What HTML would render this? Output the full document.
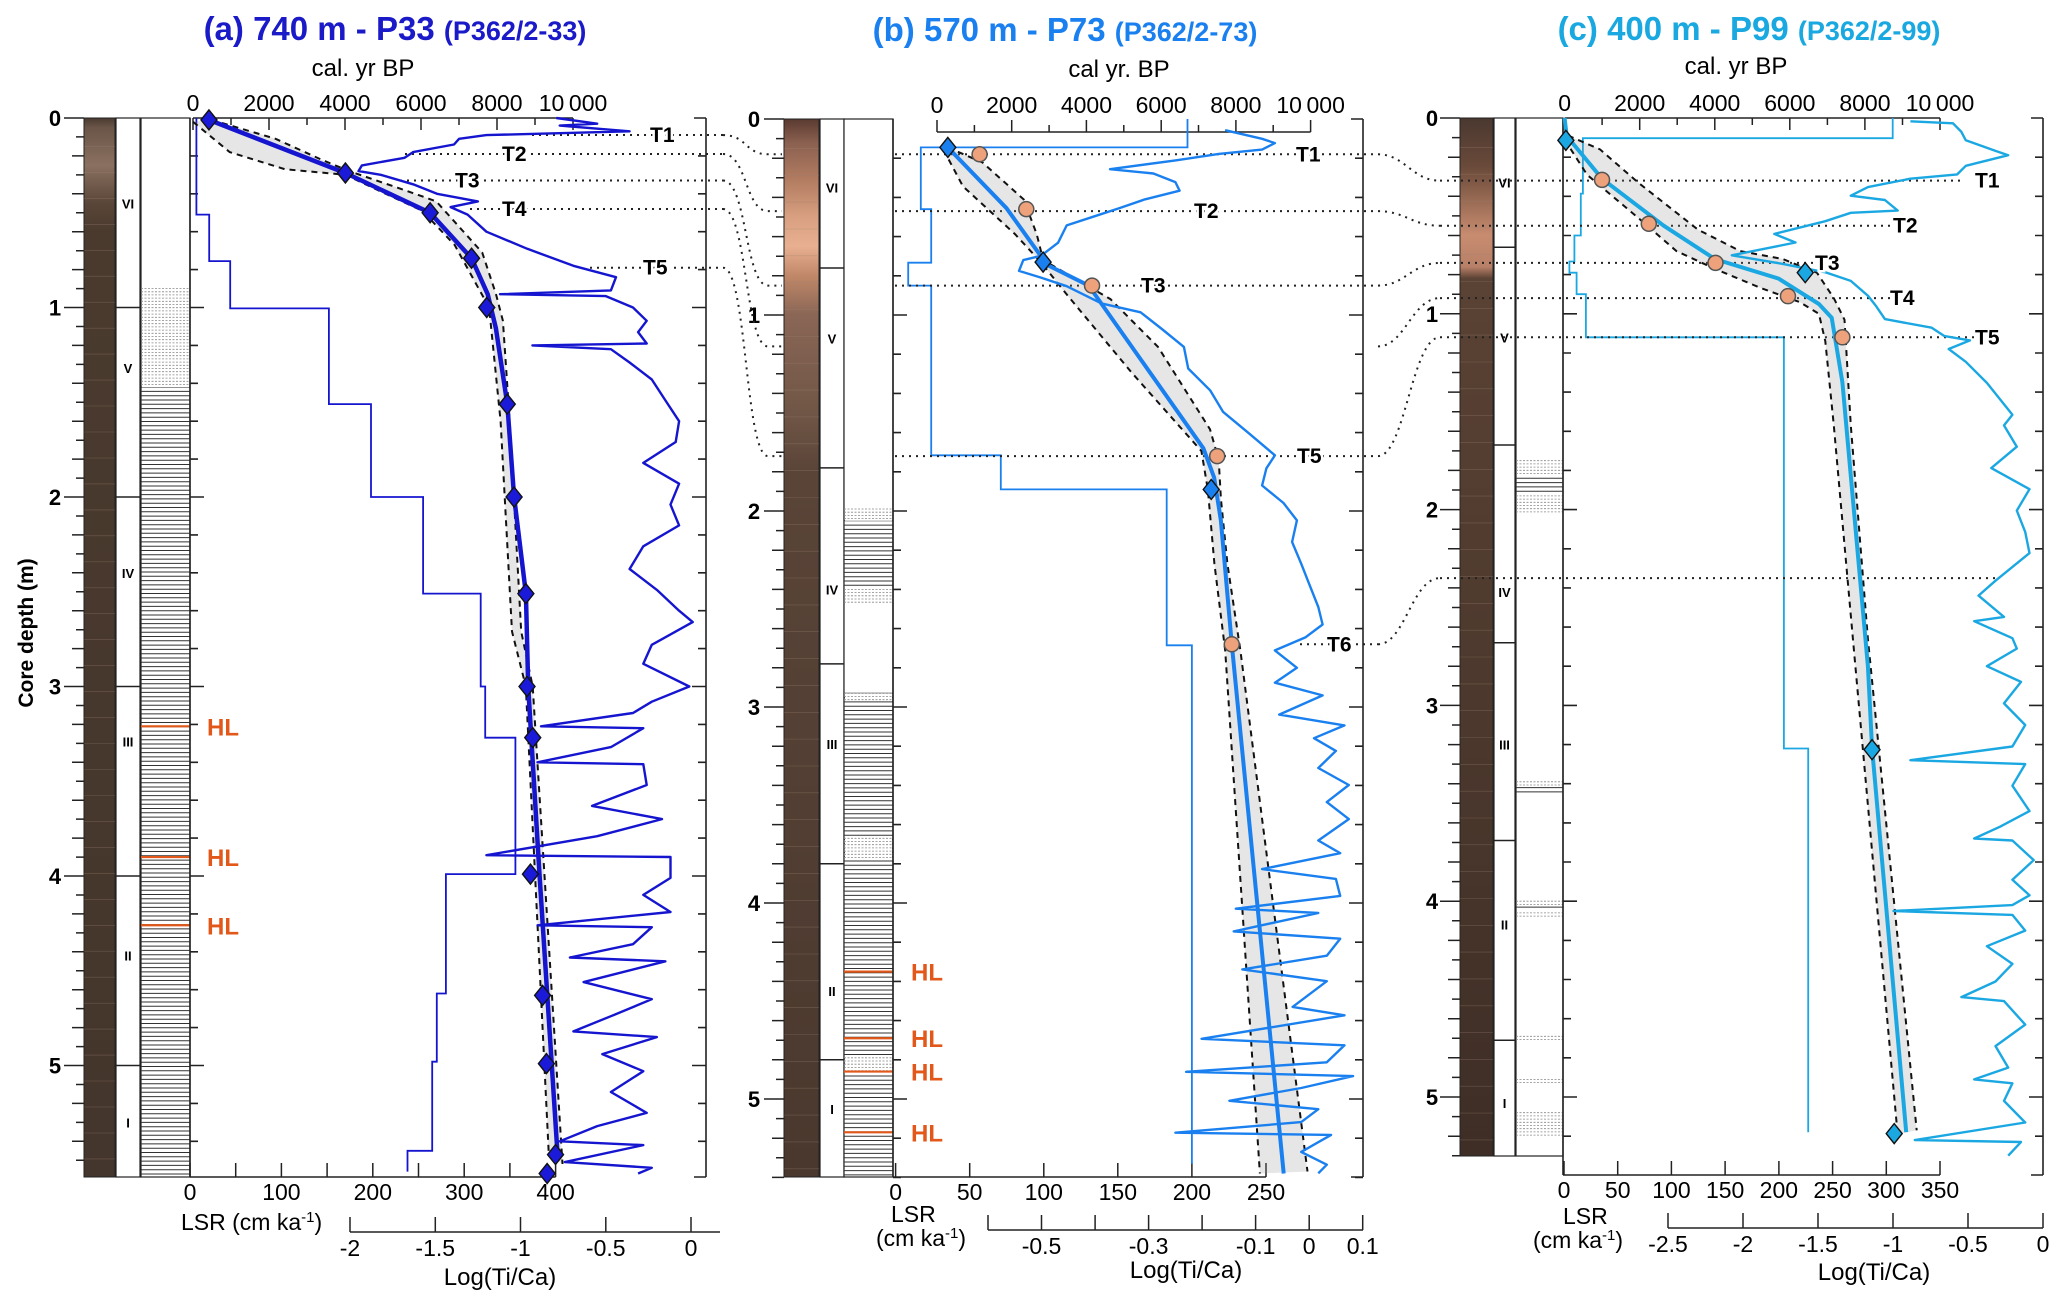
<!DOCTYPE html>
<html><head><meta charset="utf-8"><style>
html,body{margin:0;padding:0;background:#fff}
svg{display:block;font-family:"Liberation Sans",Arial,sans-serif}
</style></head><body>
<svg id="fig" width="2067" height="1309" viewBox="0 0 2067 1309" xmlns="http://www.w3.org/2000/svg">
<defs>
<linearGradient id="gA" x1="0" y1="0" x2="0" y2="1"></linearGradient>
<linearGradient id="gB" x1="0" y1="0" x2="0" y2="1"></linearGradient>
<linearGradient id="gC" x1="0" y1="0" x2="0" y2="1"></linearGradient>
</defs>
<text x="395" y="40" text-anchor="middle" font-weight="bold" fill="#1a1ac8" font-size="33">(a) 740 m - P33 <tspan font-size="27">(P362/2-33)</tspan></text>
<text x="1065" y="41" text-anchor="middle" font-weight="bold" fill="#1a80f0" font-size="33">(b) 570 m - P73 <tspan font-size="27">(P362/2-73)</tspan></text>
<text x="1749" y="40" text-anchor="middle" font-weight="bold" fill="#1aa8e0" font-size="33">(c) 400 m - P99 <tspan font-size="27">(P362/2-99)</tspan></text>
<text x="363" y="76" text-anchor="middle" font-size="24">cal. yr BP</text>
<text x="1119" y="77" text-anchor="middle" font-size="24">cal yr. BP</text>
<text x="1736" y="74" text-anchor="middle" font-size="24">cal. yr BP</text>
<text x="0" y="0" transform="translate(33,633) rotate(-90)" text-anchor="middle" font-weight="bold" font-size="21">Core depth (m)</text>
<text x="181" y="1230" font-size="23">LSR (cm ka<tspan baseline-shift="super" font-size="15">-1</tspan>)</text>
<text x="891" y="1222" font-size="23">LSR</text>
<text x="876" y="1246" font-size="23">(cm ka<tspan baseline-shift="super" font-size="15">-1</tspan>)</text>
<text x="1563" y="1224" font-size="23">LSR</text>
<text x="1533" y="1248" font-size="23">(cm ka<tspan baseline-shift="super" font-size="15">-1</tspan>)</text>
<text x="500" y="1285" text-anchor="middle" font-size="24">Log(Ti/Ca)</text>
<text x="1186" y="1278" text-anchor="middle" font-size="24">Log(Ti/Ca)</text>
<text x="1874" y="1280" text-anchor="middle" font-size="24">Log(Ti/Ca)</text>
</svg>
<script>
// ===== Panel A data =====
const aAgeDepth=[0.01,0.29,0.50,0.74,0.93,1.11,1.51,2.0,2.51,3.0,4.0,5.49];
const aAge=[420,4010,6240,7330,7755,7970,8270,8450,8760,8820,9120,9600];
const aLoDepth=[0.02,0.18,0.27,0.30,0.40,0.49,0.67,0.89,1.0,1.6,2.71,3.0,5.47];
const aLoAge=[0,966,2416,4010,5074,6040,6886,7490,7792,8094,8396,8758,9362];
const aHiDepth=[0.01,0.11,0.22,0.28,0.38,0.44,0.71,0.93,1.07,1.6,2.71,3.0,5.52];
const aHiAge=[483,2174,3382,4107,5557,6402,7610,7973,8154,8335,8637,8940,9725];
const aPtDepth=[0.01,0.29,0.50,0.74,1.0,1.51,2.0,2.51,3.0,3.27,3.99,4.63,4.99,5.47,5.57];
const aPtAge=[420,4010,6240,7330,7730,8270,8450,8760,8790,8940,8880,9200,9300,9540,9320];
const aLsrEdges=[0,0.51,0.755,1.005,1.51,2.0,2.51,3.0,3.27,3.99,4.62,4.98,5.45,5.56];
const aLsr=[7,21,44,152,198,255,318,323,356,280,270,265,238];
const aTiDepth=[0,0.03,0.04,0.07,0.09,0.11,0.14,0.18,0.21,0.25,0.28,0.30,0.35,0.40,0.44,0.47,0.51,0.60,0.69,0.78,0.84,0.91,0.93,0.94,1.00,1.07,1.13,1.19,1.20,1.22,1.29,1.38,1.49,1.60,1.71,1.82,1.93,2.04,2.15,2.26,2.38,2.49,2.60,2.66,2.78,2.88,3.00,3.08,3.14,3.21,3.22,3.32,3.40,3.41,3.52,3.63,3.70,3.79,3.89,3.90,4.01,4.10,4.19,4.26,4.27,4.36,4.43,4.45,4.56,4.65,4.74,4.82,4.85,4.94,5.03,5.14,5.25,5.32,5.40,5.42,5.51,5.54,5.57];
const aTi=[-0.79,-0.55,-0.77,-0.36,-1.20,-1.36,-1.39,-1.63,-1.68,-1.93,-1.95,-1.82,-1.63,-1.49,-1.25,-1.41,-1.31,-1.20,-0.96,-0.69,-0.44,-0.47,-1.12,-0.50,-0.34,-0.26,-0.31,-0.26,-0.93,-0.47,-0.36,-0.23,-0.15,-0.07,-0.09,-0.28,-0.07,-0.12,-0.07,-0.28,-0.36,-0.20,-0.07,0.01,-0.23,-0.28,-0.01,-0.23,-0.34,-0.88,-0.28,-0.47,-0.90,-0.28,-0.26,-0.58,-0.17,-0.55,-1.20,-0.12,-0.12,-0.28,-0.12,-0.90,-0.23,-0.34,-0.71,-0.15,-0.63,-0.23,-0.47,-0.69,-0.20,-0.52,-0.28,-0.47,-0.26,-0.55,-0.77,-0.28,-0.74,-0.23,-0.31];
const aHL=[3.21,3.90,4.26];
const aUnitBounds=[1,2,3,4,5];
const aUnitNames=['VI','V','IV','III','II','I'];
const aUnitDepth=[0.45,1.32,2.4,3.29,4.42,5.3];
const aTDepth=[0.09,0.19,0.33,0.48,0.79];
const aTNames=['T1','T2','T3','T4','T5'];
// ===== Panel B data =====
const bAgeDepth=[0.145,0.455,0.70,0.74,0.85,1.68,1.83,2.05,2.68,5.38];
const bAge=[290,1860,2780,2900,4060,7130,7420,7600,7890,9280];
const bLoDepth=[0.157,0.344,0.587,0.731,0.897,1.296,1.694,1.893,2.269,2.712,5.38];
const bLoAge=[174,696,2088,2784,3480,5220,7076,7250,7424,7714,8642];
const bHiDepth=[0.145,0.222,0.410,0.587,0.720,0.919,1.163,1.583,1.738,1.937,2.269,2.712,5.37];
const bHiAge=[290,1218,2320,2668,2842,4640,5916,7308,7540,7598,7772,8120,9918];
const bCircDepth=[0.18,0.46,0.85,1.72,2.68];
const bCircAge=[1140,2390,4150,7500,7890];
const bDiaDepth=[0.145,0.73,1.89];
const bDiaAge=[290,2840,7340];
const bLsrEdges=[0,0.145,0.46,0.733,0.85,1.716,1.89,2.685,5.33];
const bLsr=[197,17,24,8.5,24,71,183,200];
const bTiDepth=[0.057,0.101,0.123,0.156,0.178,0.211,0.256,0.278,0.322,0.366,0.410,0.455,0.499,0.543,0.631,0.698,0.720,0.775,0.809,0.853,0.941,0.986,1.074,1.163,1.273,1.384,1.494,1.605,1.716,1.782,1.870,1.959,2.048,2.158,2.269,2.379,2.490,2.579,2.645,2.711,2.800,2.876,2.941,3.039,3.094,3.159,3.224,3.311,3.398,3.485,3.572,3.681,3.746,3.827,3.877,3.964,4.029,4.051,4.145,4.182,4.269,4.339,4.399,4.530,4.573,4.693,4.726,4.813,4.861,4.883,4.944,5.009,5.052,5.118,5.172,5.183,5.270,5.335,5.379];
const bTi=[-0.157,-0.088,-0.064,-0.088,-0.169,-0.250,-0.372,-0.291,-0.250,-0.242,-0.307,-0.355,-0.404,-0.453,-0.469,-0.501,-0.534,-0.542,-0.501,-0.453,-0.388,-0.315,-0.274,-0.234,-0.226,-0.185,-0.161,-0.112,-0.064,-0.080,-0.088,-0.048,-0.023,-0.032,-0.015,0.001,0.017,0.025,-0.007,-0.064,-0.023,-0.064,0.025,-0.056,0.066,0.009,0.050,0.017,0.074,0.033,0.074,0.017,0.058,-0.088,0.050,0.058,-0.137,0.017,-0.141,0.058,0.033,-0.125,0.033,-0.031,0.066,-0.201,0.066,0.033,-0.230,0.082,-0.015,-0.149,0.017,-0.015,-0.250,0.041,-0.015,0.033,0.017];
const bHL=[4.35,4.69,4.86,5.17];
const bUnitBounds=[0.76,1.78,2.78,3.80,4.80];
const bUnitNames=['VI','V','IV','III','II','I'];
const bUnitDepth=[0.35,1.12,2.4,3.19,4.45,5.05];
const bTDepth=[0.18,0.47,0.85,1.72,2.68];
const bTNames=['T1','T2','T3','T5','T6'];
// ===== Panel C data =====
const cAgeDepth=[0.0,0.092,0.31,0.55,0.72,0.82,0.95,1.02,1.35,2.8,3.22,5.18];
const cAge=[0,57,997,2640,4000,5700,6775,7115,7400,8080,8190,9100];
const cLoDepth=[0.11,0.29,0.51,0.68,0.77,0.87,0.94,1.0,1.14,1.57,2.66,5.19];
const cLoAge=[0,600,1960,2980,4000,5245,6265,6775,6945,7170,7680,8870];
const cHiDepth=[0.09,0.16,0.33,0.57,0.68,0.72,0.79,0.92,1.03,1.57,2.66,5.17];
const cHiAge=[90,940,1960,3550,4680,5810,6720,7170,7455,7625,8080,9380];
const cCircDepth=[0.316,0.54,0.74,0.91,1.12];
const cCircAge=[997,2243,4020,5950,7400];
const cDiaDepth=[0.114,0.79,3.226,5.187];
const cDiaAge=[34,6410,8190,8780];
const cLsrEdges=[0,0.103,0.386,0.60,0.733,0.79,0.90,1.12,3.22,5.18];
const cLsr=[306,17.6,15.6,9.7,5,11.7,20.4,204.7,227.3];
const cTiDepth=[0.017,0.027,0.071,0.114,0.168,0.190,0.244,0.288,0.310,0.353,0.397,0.419,0.473,0.484,0.527,0.592,0.636,0.658,0.701,0.745,0.788,0.832,0.908,0.962,1.027,1.071,1.114,1.136,1.180,1.245,1.353,1.462,1.516,1.570,1.679,1.788,1.896,2.005,2.114,2.222,2.363,2.439,2.548,2.570,2.657,2.71,2.80,2.88,2.99,3.10,3.21,3.28,3.30,3.41,3.54,3.62,3.68,3.69,3.79,3.89,3.97,4.02,4.05,4.07,4.15,4.23,4.32,4.41,4.49,4.51,4.63,4.74,4.85,4.91,4.93,5.02,5.13,5.22,5.23,5.30];
const cTi=[-0.884,-0.600,-0.544,-0.515,-0.317,-0.232,-0.515,-0.572,-0.884,-1.167,-1.281,-1.054,-0.969,-1.281,-1.451,-1.791,-1.650,-1.791,-2.075,-1.735,-1.451,-1.281,-1.167,-1.111,-1.054,-0.742,-0.657,-0.487,-0.629,-0.515,-0.374,-0.260,-0.204,-0.260,-0.175,-0.345,-0.090,-0.175,-0.119,-0.090,-0.317,-0.430,-0.260,-0.459,-0.204,-0.175,-0.374,-0.147,-0.260,-0.119,-0.204,-0.884,-0.119,-0.204,-0.090,-0.288,-0.459,-0.204,-0.062,-0.204,-0.090,-0.204,-0.997,-0.204,-0.119,-0.374,-0.204,-0.317,-0.544,-0.260,-0.119,-0.317,-0.232,-0.459,-0.204,-0.260,-0.119,-0.855,-0.147,-0.232];
const cUnitBounds=[0.66,1.67,2.68,3.69,4.71];
const cUnitNames=['VI','V','IV','III','II','I'];
const cUnitDepth=[0.33,1.12,2.42,3.2,4.12,5.03];
const cTDepth=[0.32,0.55,0.74,0.92,1.12,2.35];
const cTNames=['T1','T2','T3','T4','T5',''];
// ===== tick labels =====
const ageTickLabels=['0','2000','4000','6000','8000','10\u2009000'];
const ageTickValues=[0,2000,4000,6000,8000,10000];
const depthTickLabels=['0','1','2','3','4','5'];
const aLsrLabels=[0,100,200,300,400];
const bLsrLabels=[0,50,100,150,200,250];
const cLsrLabels=[0,50,100,150,200,250,300,350];
const aLogLabels=[-2,-1.5,-1,-0.5,0];
const bLogLabels=[-0.5,-0.3,-0.1,0,0.1];
const cLogLabels=[-2.5,-2,-1.5,-1,-0.5,0];
// connectors
const abFrom=[0.09,0.19,0.33,0.48,0.79];
const abTo=[0.18,0.47,0.85,1.16,1.72];
const bcFrom=[0.18,0.47,0.85,1.16,1.72,2.68];
const bcTo=[0.32,0.55,0.74,0.92,1.12,2.35];

const NS='http://www.w3.org/2000/svg';
const svg=document.getElementById('fig');
function mk(tag,attrs,parent){const e=document.createElementNS(NS,tag);for(const k in attrs)e.setAttribute(k,attrs[k]);(parent||svg).appendChild(e);return e;}
function tx(x,y,s,size,attrs,parent){const e=mk('text',Object.assign({x:x,y:y,'font-size':size},attrs||{}),parent);e.textContent=s;return e;}

const G={
 a:{y0:118,ppm:189.5,bot:1177,maxD:5.59,photo:[84,115],unit:[116,140],lith:[141,190],colBot:1177,plotL:190,plotR:706,
    age0:193,age1:573,ageY:118,ageDir:1,ageLblY:111,lsr0:190,lsrPx:0.914,lsrMax:400,lsrStep:50,lsrY:1177,
    logY:1232,log0x:350,logPx:170.5,logMin:-2,logEnd:720,logStep:0.5,logRef:-2,lblX:55,tickX:84,hlX:207,
    color:'#1515d0',grad:'gA',photoStops:[[0,'#4a3a30'],[0.05,'#6a5548'],[0.25,'#8a7060'],[0.45,'#5a4638'],[0.6,'#4a3a2e'],[5.59,'#44362c']]},
 b:{y0:119,ppm:196,bot:1177,maxD:5.40,photo:[784,819],unit:[820,844],lith:[844,893],colBot:1177,plotL:893,plotR:1363,
    age0:937,age1:1310.6,ageY:132,ageDir:-1,ageLblY:113,lsr0:895.6,lsrPx:1.4816,lsrMax:250,lsrStep:50,lsrY:1177,
    logY:1230,log0x:988,logPx:535.3,logMin:-0.6,logEnd:1363,logStep:0.1,logRef:-0.6,lblX:754,tickX:784,hlX:911,
    color:'#1a80ef',grad:'gB',photoStops:[[0,'#5a3a30'],[0.12,'#8a6050'],[0.3,'#b07a60'],[0.5,'#d8a080'],[0.65,'#e8b090'],[0.8,'#c08868'],[1.0,'#8a6656'],[1.5,'#705646'],[1.8,'#5a4438'],[5.4,'#4a382e']]},
 c:{y0:118,ppm:195.8,bot:1175,maxD:5.30,photo:[1460,1493],unit:[1494,1515],lith:[1516,1563],colBot:1156,plotL:1563,plotR:2043,
    age0:1564.6,age1:1940,ageY:118,ageDir:1,ageLblY:111,lsr0:1564,lsrPx:1.0743,lsrMax:350,lsrStep:50,lsrY:1175,
    logY:1228,log0x:1668,logPx:150,logMin:-2.5,logEnd:2043,logStep:0.5,logRef:-2.5,lblX:1432,tickX:1460,hlX:0,
    color:'#1ba8e2',grad:'gC',photoStops:[[0,'#4a3830'],[0.25,'#6a4a3a'],[0.45,'#a07058'],[0.6,'#c88c70'],[0.76,'#b88068'],[0.82,'#5a4234'],[5.3,'#3e2e26']]}
};
function Y(g,d){return g.y0+d*g.ppm;}
function XA(g,a){return g.age0+a*(g.age1-g.age0)/10000;}
function XL(g,v){return g.lsr0+v*g.lsrPx;}
function XT(g,l){return g.log0x+(l-g.logRef)*g.logPx;}
function line(g,ds,vs,fx){return ds.map((d,i)=>(i?'L':'M')+fx(g,vs[i]).toFixed(1)+' '+Y(g,d).toFixed(1)).join(' ');}

function drawPanel(k,D){
 const g=G[k];
 const grp=mk('g',{});
 
 
 // photo gradient
 const gr=document.getElementById(g.grad);
 g.photoStops.forEach(s=>{const st=mk('stop',{offset:(s[0]/g.maxD).toFixed(4),'stop-color':s[1]},gr);});
 const ph=mk('rect',{x:g.photo[0],y:g.y0,width:g.photo[1]-g.photo[0],height:g.colBot-g.y0,fill:'url(#'+g.grad+')',stroke:'#222','stroke-width':1},grp);
 
 
 // faint layers on photo
 let lay='';for(let d=0.15;d<g.maxD;d+=0.137){lay+='M'+g.photo[0]+' '+Y(g,d).toFixed(1)+'H'+g.photo[1];}
 const lp=mk('path',{d:lay,stroke:'#9a8070','stroke-width':0.6,opacity:0.45},grp);
 
 
 // depth ticks
 let t='';for(let i=0;i*0.1<=g.maxD+0.001;i++){const L=(i%10===0)?20:(i%2===0?12:8);const y=Y(g,i*0.1);t+='M'+(g.tickX-L)+' '+y.toFixed(1)+'H'+g.tickX;}
 const tp=mk('path',{d:t,stroke:'#222','stroke-width':1.5},grp);
 
 
 depthTickLabels.forEach((s,i)=>{const e=tx(g.lblX,Y(g,i)+8,s,22,{'text-anchor':'middle','font-weight':'bold'},grp);
  
  });
 // unit column
 const uc=mk('rect',{x:g.unit[0],y:g.y0,width:g.unit[1]-g.unit[0],height:g.colBot-g.y0,fill:'#fff',stroke:'#222','stroke-width':1.2},grp);
 
 
 let ub='';D.unitB.forEach(d=>{ub+='M'+g.unit[0]+' '+Y(g,d).toFixed(1)+'H'+g.unit[1];});
 const ubp=mk('path',{d:ub,stroke:'#222','stroke-width':1.5},grp);
 
 
 D.unitN.forEach((s,i)=>{const e=tx((g.unit[0]+g.unit[1])/2,Y(g,D.unitD[i])+5,s,13,{'text-anchor':'middle','font-weight':'bold'},grp);
  
  });
 // lithology column
 const lc=mk('rect',{x:g.lith[0],y:g.y0,width:g.lith[1]-g.lith[0],height:g.colBot-g.y0,fill:'#fff',stroke:'#222','stroke-width':1.2},grp);
 
 
 let lam='';D.lam.forEach(iv=>{for(let y=Y(g,iv[0]);y<=Y(g,iv[1]);y+=4.3){lam+='M'+g.lith[0]+' '+y.toFixed(1)+'H'+g.lith[1];}});
 const lmp=mk('path',{d:lam,stroke:'#333','stroke-width':1},grp);
 
 
 let dot='';D.dot.forEach(iv=>{const y1=Y(g,iv[0]),y2=Y(g,iv[1]);mk('rect',{x:g.lith[0]+1,y:y1,width:g.lith[1]-g.lith[0]-2,height:y2-y1,fill:'#fff'},grp);for(let y=y1;y<=y2;y+=3.2){dot+='M'+g.lith[0]+' '+y.toFixed(1)+'H'+g.lith[1];}});
 const dp=mk('path',{d:dot,stroke:'#888','stroke-width':0.8,'stroke-dasharray':'2 1.5'},grp);
 
 
 D.hl.forEach((d,i)=>{const e=mk('line',{x1:g.lith[0],x2:g.lith[1],y1:Y(g,d),y2:Y(g,d),stroke:'#e2581a','stroke-width':2.2},grp);
  
  
  const t2=tx(g.hlX,Y(g,d)+9,'HL',24,{'font-weight':'bold',fill:'#e2581a'},grp);
  
  });
 // plot axes
 let ax='M'+g.plotL+' '+g.y0+'V'+g.bot+' M'+g.plotR+' '+g.y0+'V'+g.bot+' M'+(g.plotR-12)+' '+g.y0+'H'+g.plotR+' M'+(g.plotR-12)+' '+g.bot+'H'+g.plotR;
 for(let i=1;i*0.2<=g.maxD+0.01;i++){const y=Y(g,i*0.2).toFixed(1);const L=(i%5===0)?14:8;ax+=' M'+g.plotL+' '+y+'h'+L+' M'+g.plotR+' '+y+'h-'+L;}
 const axp=mk('path',{d:ax,stroke:'#222','stroke-width':1.6,fill:'none'},grp);
 
 
 // age axis
 let ag='M'+g.age0+' '+g.ageY+'H'+g.age1;
 for(let a=0;a<=10000;a+=1000){const x=XA(g,a).toFixed(1);const L=(a%2000===0)?12:7;ag+=' M'+x+' '+g.ageY+'v'+(g.ageDir*L);}
 const agp=mk('path',{d:ag,stroke:'#222','stroke-width':1.5,fill:'none'},grp);
 
 
 ageTickValues.forEach((a,i)=>{const e=tx(XA(g,a),g.ageLblY,ageTickLabels[i],23,{'text-anchor':'middle'},grp);
  
  });
 // LSR axis
 let ls='M'+g.plotL+' '+g.lsrY+'H'+XL(g,g.lsrMax);
 for(let v=0;v<=g.lsrMax;v+=g.lsrStep){ls+=' M'+XL(g,v).toFixed(1)+' '+g.lsrY+'v-14';}
 const lsp=mk('path',{d:ls,stroke:'#222','stroke-width':1.5,fill:'none'},grp);
 
 
 D.lsrLbl.forEach(v=>{const e=tx(XL(g,v),g.lsrY+23,String(v),23,{'text-anchor':'middle'},grp);
  
  });
 // log axis
 let lg='M'+g.log0x+' '+g.logY+'H'+g.logEnd;
 for(let l=g.logMin;XT(g,l)<=g.logEnd+1;l+=g.logStep){lg+=' M'+XT(g,l).toFixed(1)+' '+g.logY+'v-15';}
 const lgp=mk('path',{d:lg,stroke:'#222','stroke-width':1.5,fill:'none'},grp);
 
 
 D.logLbl.forEach(v=>{const e=tx(XT(g,v),g.logY+24,String(v),23,{'text-anchor':'middle'},grp);
  
  });
 // LSR steps
 let sp='M'+XL(g,D.lsr[0]).toFixed(1)+' '+Y(g,D.lsrE[0]).toFixed(1);
 D.lsr.forEach((v,i)=>{const x=XL(g,v).toFixed(1);sp+=' H'+x+' V'+Y(g,D.lsrE[i+1]).toFixed(1);});
 const lsrLine=mk('path',{d:sp,stroke:g.color,'stroke-width':1.8,fill:'none'},grp);
 
 
 // T lines (behind curves)
 D.tLines.forEach((tl,i)=>{if(tl[1]>=tl[2])return;const e=mk('line',{x1:tl[1],x2:tl[2],y1:Y(g,tl[0]),y2:Y(g,tl[0]),stroke:'#222','stroke-width':2,'stroke-dasharray':'2 5'},grp);
  
  });
 // uncertainty band
 const lo=D.loD.map((d,i)=>XA(g,D.loA[i]).toFixed(1)+','+Y(g,d).toFixed(1));
 const hi=D.hiD.map((d,i)=>XA(g,D.hiA[i]).toFixed(1)+','+Y(g,d).toFixed(1)).reverse();
 const band=mk('polygon',{points:lo.concat(hi).join(' '),fill:'#8c8c8c','fill-opacity':0.22},grp);
 
 
 const dl=mk('path',{d:line(g,D.loD,D.loA,XA),stroke:'#111','stroke-width':2,'stroke-dasharray':'6 5',fill:'none'},grp);
 
 
 const dh=mk('path',{d:line(g,D.hiD,D.hiA,XA),stroke:'#111','stroke-width':2,'stroke-dasharray':'6 5',fill:'none'},grp);
 
 
 // Ti/Ca
 const ti=mk('path',{d:line(g,D.tiD,D.ti,XT),stroke:g.color,'stroke-width':2.4,fill:'none','stroke-linejoin':'round'},grp);
 
 
 // age model
 const am=mk('path',{d:line(g,D.ageD,D.age,XA),stroke:g.color,'stroke-width':k==='a'?4.5:4,fill:'none','stroke-linejoin':'round'},grp);
 
 
 // markers
 (D.diaD||[]).forEach((d,i)=>{const x=XA(g,D.diaA[i]),y=Y(g,d);const e=mk('path',{d:'M'+x+' '+(y-10)+'L'+(x+8)+' '+y+'L'+x+' '+(y+10)+'L'+(x-8)+' '+y+'Z',fill:k==='a'?'#1a1ad8':g.color,stroke:'#111','stroke-width':1.4},grp);
  
  });
 (D.circD||[]).forEach((d,i)=>{const e=mk('circle',{cx:XA(g,D.circA[i]),cy:Y(g,d),r:7.5,fill:'#eda27c',stroke:'#555','stroke-width':1.5},grp);
  
  });
 // T labels
 D.tLabels.forEach((tl,i)=>{if(!tl[1])return;const e=tx(tl[2],Y(g,tl[0])+7,tl[1],21,{'font-weight':'bold',stroke:'#fff','stroke-width':5,'paint-order':'stroke'},grp);
  
  });
}

drawPanel('a',{ageD:aAgeDepth,age:aAge,loD:aLoDepth,loA:aLoAge,hiD:aHiDepth,hiA:aHiAge,diaD:aPtDepth,diaA:aPtAge,
 lsrE:aLsrEdges,lsr:aLsr,tiD:aTiDepth,ti:aTi,hl:aHL,unitB:aUnitBounds,unitN:aUnitNames,unitD:aUnitDepth,
 lam:[[1.42,5.59]],dot:[[0.9,1.42]],lsrLbl:aLsrLabels,logLbl:aLogLabels,
 tLines:[[aTDepth[0],532,723],[aTDepth[1],405,723],[aTDepth[2],400,723],[aTDepth[3],470,723],[aTDepth[4],590,723]],
 tLabels:[[aTDepth[0],aTNames[0],650],[aTDepth[1],aTNames[1],502],[aTDepth[2],aTNames[2],455],[aTDepth[3],aTNames[3],502],[aTDepth[4],aTNames[4],643]]});
drawPanel('b',{ageD:bAgeDepth,age:bAge,loD:bLoDepth,loA:bLoAge,hiD:bHiDepth,hiA:bHiAge,diaD:bDiaDepth,diaA:bDiaAge,circD:bCircDepth,circA:bCircAge,
 lsrE:bLsrEdges,lsr:bLsr,tiD:bTiDepth,ti:bTi,hl:bHL,unitB:bUnitBounds,unitN:bUnitNames,unitD:bUnitDepth,
 lam:[[2.05,2.40],[2.93,5.40]],dot:[[1.99,2.05],[2.40,2.47],[2.93,2.97],[3.67,3.77],[4.79,4.86]],lsrLbl:bLsrLabels,logLbl:bLogLabels,
 tLines:[[bTDepth[0],895,1378],[bTDepth[1],895,1378],[bTDepth[2],895,1378],[bTDepth[3],895,1378],[bTDepth[4],1300,1378]],
 tLabels:[[bTDepth[0],bTNames[0],1296],[bTDepth[1],bTNames[1],1194],[bTDepth[2],bTNames[2],1141],[bTDepth[3],bTNames[3],1297],[bTDepth[4],bTNames[4],1327]]});
drawPanel('c',{ageD:cAgeDepth,age:cAge,loD:cLoDepth,loA:cLoAge,hiD:cHiDepth,hiA:cHiAge,diaD:cDiaDepth,diaA:cDiaAge,circD:cCircDepth,circA:cCircAge,
 lsrE:cLsrEdges,lsr:cLsr,tiD:cTiDepth,ti:cTi,hl:[],unitB:cUnitBounds,unitN:cUnitNames,unitD:cUnitDepth,
 lam:[[1.84,1.92],[3.42,3.45],[4.03,4.05]],dot:[[1.75,1.83],[1.93,2.02],[3.39,3.41],[4.0,4.02],[4.06,4.08],[4.69,4.71],[4.91,4.93],[5.08,5.2]],lsrLbl:cLsrLabels,logLbl:cLogLabels,
 tLines:[[cTDepth[0],1440,1960],[cTDepth[1],1440,1893],[cTDepth[2],1440,1815],[cTDepth[3],1440,1890],[cTDepth[4],1440,1975],[cTDepth[5],1440,1995]],
 tLabels:[[cTDepth[0],cTNames[0],1975],[cTDepth[1],cTNames[1],1893],[cTDepth[2],cTNames[2],1815],[cTDepth[3],cTNames[3],1890],[cTDepth[4],cTNames[4],1975]]});

// inter-panel connectors
abFrom.forEach((d,i)=>{const y1=Y(G.a,d),y2=Y(G.b,abTo[i]);
 const e=mk('path',{d:'M723 '+y1.toFixed(1)+' C747 '+y1.toFixed(1)+' 745 '+y2.toFixed(1)+' 768 '+y2.toFixed(1)+' H782',stroke:'#222','stroke-width':2,'stroke-dasharray':'2 5',fill:'none'});
 
 });
bcFrom.forEach((d,i)=>{const y1=Y(G.b,d),y2=Y(G.c,bcTo[i]);
 const e=mk('path',{d:'M1378 '+y1.toFixed(1)+' C1405 '+y1.toFixed(1)+' 1412 '+y2.toFixed(1)+' 1440 '+y2.toFixed(1),stroke:'#222','stroke-width':2,'stroke-dasharray':'2 5',fill:'none'});
 
 });
</script>
</body></html>
